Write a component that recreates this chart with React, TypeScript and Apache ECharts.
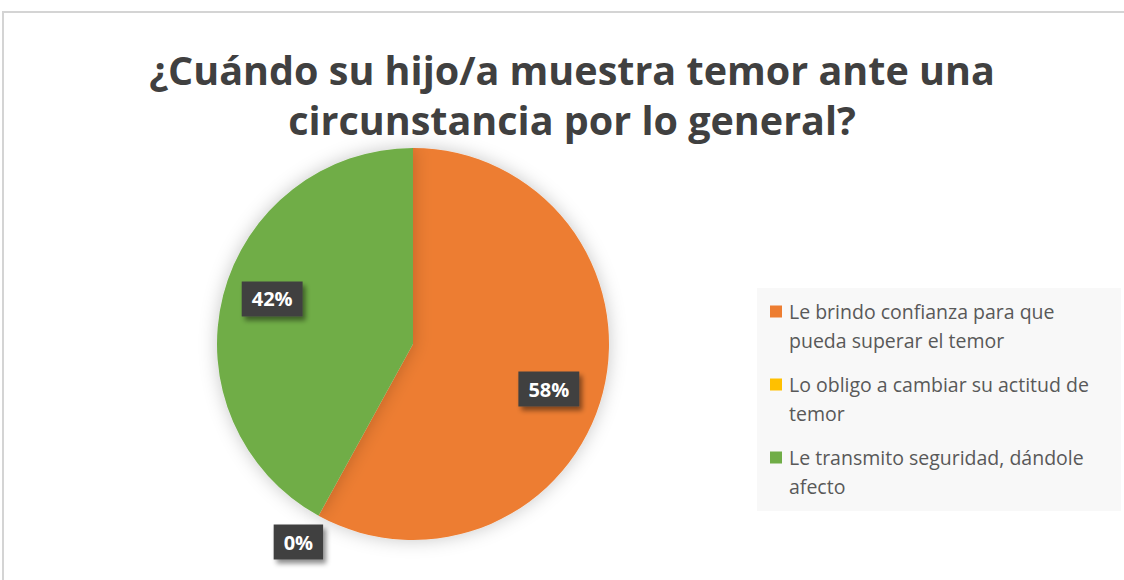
import React, { useEffect, useRef } from "react";
import * as echarts from "echarts";

const titleText = "¿Cuándo su hijo/a muestra temor ante una\ncircunstancia por lo general?";
const categories = [
  "Le brindo confianza para que pueda superar el temor",
  "Lo obligo a cambiar su actitud de temor",
  "Le transmito seguridad, dándole afecto",
];
const legendLabels = [
  "Le brindo confianza para que\npueda superar el temor",
  "Lo obligo a cambiar su actitud de\ntemor",
  "Le transmito seguridad, dándole\nafecto",
];
const values = [58, 0, 42];
const colors = ["#ED7D31", "#FFC000", "#70AD47"];

const labelStyles = [
  { position: "inside", offset: [38, 20] },
  { position: "outside", offset: [24, 0] },
  { position: "inside", offset: [-43, -20] },
];

export default function App() {
  const ref = useRef<HTMLDivElement>(null);
  useEffect(() => {
    document.body.style.margin = "0";
    const chart = echarts.init(ref.current!, null, { renderer: "svg" });
    const data = categories.map((name, i) => ({
      name,
      value: values[i],
      itemStyle: { color: colors[i] },
      label: labelStyles[i],
    }));
    chart.setOption({
      animation: false,
      backgroundColor: "#ffffff",
      title: {
        text: titleText,
        left: 572,
        top: 45,
        textAlign: "center",
        padding: 0,
        textStyle: {
          fontFamily: "Open Sans",
          fontWeight: "bold",
          fontSize: 39.5,
          lineHeight: 50,
          color: "#404040",
        },
      },
      graphic: [
        {
          type: "rect",
          z: -10,
          silent: true,
          shape: { x: 3, y: 12, width: 1300, height: 800 },
          style: { fill: "#ffffff", stroke: "#d4d4d4", lineWidth: 2 },
        },
        {
          type: "rect",
          z: -5,
          silent: true,
          shape: { x: 757, y: 288, width: 364, height: 223 },
          style: { fill: "#f8f8f8" },
        },
      ],
      legend: {
        orient: "vertical",
        left: 770,
        top: 297,
        padding: 0,
        itemGap: 15,
        itemWidth: 12,
        itemHeight: 41,
        icon: "path://M0,0L12,0L12,12L0,12Z M0,41L12,41",
        data: categories,
        formatter: (name: string) => legendLabels[categories.indexOf(name)],
        textStyle: {
          fontFamily: "Open Sans",
          fontSize: 19.5,
          lineHeight: 29,
          color: "#595959",
          padding: [0, 0, 0, 2],
        },
      },
      series: [
        {
          type: "pie",
          center: [413, 344],
          radius: 196,
          startAngle: 90,
          clockwise: true,
          avoidLabelOverlap: false,
          percentPrecision: 0,
          itemStyle: {
            shadowBlur: 18,
            shadowColor: "rgba(0,0,0,0.22)",
          },
          labelLine: { show: false, length: 30, length2: 0 },
          label: {
            formatter: "{d}%",
            color: "#ffffff",
            fontFamily: "Open Sans",
            fontWeight: "bold",
            fontSize: 20,
            backgroundColor: "#404040",
            padding: [8, 10, 7, 10],
            shadowColor: "rgba(0,0,0,0.45)",
            shadowBlur: 5,
            shadowOffsetX: 3,
            shadowOffsetY: 4,
          },
          emphasis: { disabled: true },
          data,
        },
      ],
    });
    return () => chart.dispose();
  }, []);
  return <div ref={ref} style={{ width: 1124, height: 580 }} />;
}
